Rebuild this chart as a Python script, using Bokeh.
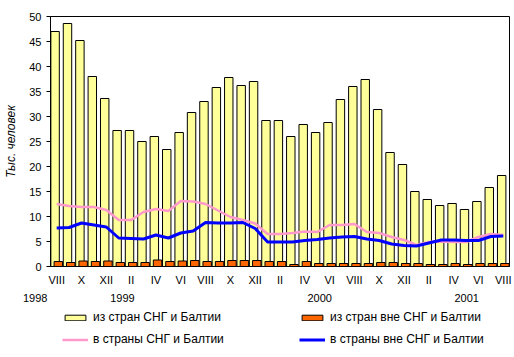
from bokeh.plotting import figure
from bokeh.models import (Range1d, FixedTicker, Legend, LegendItem,
                          ColumnDataSource, LinearAxis)
from bokeh.layouts import column
from bokeh.transform import dodge
from bokeh.embed import file_html
from bokeh.resources import INLINE

months = ["VIII", "IX", "X", "XI", "XII",
          "I", "II", "III", "IV", "V", "VI", "VII", "VIII", "IX", "X", "XI", "XII",
          "I", "II", "III", "IV", "V", "VI", "VII", "VIII", "IX", "X", "XI", "XII",
          "I", "II", "III", "IV", "V", "VI", "VII", "VIII"]

from_cis = [47.0, 48.6, 45.2, 38.0, 33.6, 27.2, 27.2, 25.0, 26.0, 23.4,
            26.8, 30.8, 33.0, 35.8, 37.8, 36.2, 37.0, 29.2, 29.2, 26.0,
            28.4, 26.8, 28.8, 33.4, 36.0, 37.4, 31.4, 22.8, 20.4, 15.0,
            13.4, 12.2, 12.6, 11.4, 13.0, 15.8, 18.2]

from_noncis = [1.0, 0.8, 1.1, 1.0, 1.1, 0.8, 0.8, 0.8, 1.3, 1.0,
               1.1, 1.2, 1.0, 1.0, 1.2, 1.2, 1.2, 1.0, 1.0, 0.4,
               1.0, 0.6, 0.6, 0.6, 0.6, 0.6, 0.8, 0.8, 0.6, 0.6,
               0.4, 0.4, 0.6, 0.4, 0.6, 0.6, 0.6]

to_cis = [12.5, 12.1, 11.9, 11.9, 11.3, 9.3, 9.3, 10.9, 11.5, 11.1,
          13.1, 13.0, 12.5, 11.2, 9.9, 9.3, 8.6, 6.5, 6.5, 6.7,
          7.0, 6.9, 8.3, 8.3, 8.5, 6.9, 6.7, 5.9, 5.3, 4.3,
          4.9, 5.0, 4.9, 4.9, 5.9, 6.5, 6.3]

to_noncis = [7.7, 7.8, 8.7, 8.3, 7.9, 5.7, 5.6, 5.5, 6.3, 5.7,
             6.7, 7.1, 8.8, 8.7, 8.7, 8.8, 7.6, 4.9, 4.9, 4.9,
             5.2, 5.4, 5.7, 5.9, 6.0, 5.5, 5.2, 4.5, 4.2, 4.1,
             4.7, 5.3, 5.3, 5.2, 5.2, 6.0, 6.1]

years = ["1998", "1999", "2000", "2001"]
year_pos = [-0.5, 5.3, 21.2, 33.05]

labels = ["из стран СНГ и Балтии", "из стран вне СНГ и Балтии",
          "в страны СНГ и Балтии", "в страны вне СНГ и Балтии"]

FONT = "Liberation Sans"
NBSP = "\u00a0"
YELLOW, ORANGE, PINK, BLUE = "#FFFF99", "#FF6600", "#FF99CC", "#0000FF"

idx = list(range(len(months)))
src = ColumnDataSource(dict(x=idx, a=from_cis, b=from_noncis,
                            c=to_cis, d=to_noncis))

p = figure(width=514, height=310, output_backend="svg", toolbar_location=None,
           x_range=Range1d(-0.5, len(months) - 0.5), y_range=Range1d(0, 50),
           min_border_left=50, min_border_right=5, min_border_top=16,
           min_border_bottom=44)
p.xgrid.visible = False
p.ygrid.visible = False
p.outline_line_color = "black"
p.outline_line_alpha = 1.0
p.outline_line_width = 1
p.background_fill_color = "white"
p.border_fill_color = "white"

p.vbar(x=dodge("x", -0.13, range=p.x_range), top="a", width=0.68,
       fill_color=YELLOW, line_color="black", line_width=1, source=src)
p.vbar(x=dodge("x", 0.13, range=p.x_range), top="b", width=0.68,
       fill_color=ORANGE, line_color="black", line_width=1, source=src)
p.line("x", "c", line_color=PINK, line_width=2.5, source=src)
p.line("x", "d", line_color=BLUE, line_width=3, source=src)

# month axis
xa = p.xaxis[0]
xa.ticker = FixedTicker(ticks=idx[::2])
xa.major_label_overrides = {i: months[i] for i in idx[::2]}
xa.major_tick_out = 0
xa.major_tick_in = 0
xa.minor_tick_out = 0
xa.minor_tick_in = 0
xa.major_label_standoff = 7
xa.major_label_text_font = FONT
xa.major_label_text_font_size = "11px"
xa.major_label_text_color = "black"
xa.axis_line_color = "black"

# year axis (second level of category labels)
year_labels = {}
for yr, pos in zip(years, year_pos):
    year_labels[pos] = yr + NBSP * 10 if pos < 0 else yr
ya2 = LinearAxis(ticker=FixedTicker(ticks=year_pos),
                 major_label_overrides=year_labels,
                 axis_line_color=None, major_tick_line_color=None,
                 minor_tick_line_color=None, major_tick_out=0, major_tick_in=0,
                 minor_tick_out=0, minor_tick_in=0, major_label_standoff=3,
                 major_label_text_font=FONT, major_label_text_font_size="11px",
                 major_label_text_color="black")
p.add_layout(ya2, "below")

# y axis
ya = p.yaxis[0]
ya.ticker = FixedTicker(ticks=list(range(0, 51, 5)))
ya.major_tick_out = 4
ya.major_tick_in = 0
ya.minor_tick_out = 0
ya.minor_tick_in = 0
ya.major_label_standoff = 5
ya.major_label_text_font = FONT
ya.major_label_text_font_size = "11px"
ya.major_label_text_color = "black"
ya.axis_line_color = "black"
ya.major_tick_line_color = "black"
ya.axis_label = "Тыс. человек"
ya.axis_label_text_font = FONT
ya.axis_label_text_font_size = "12px"
ya.axis_label_text_font_style = "italic"
ya.axis_label_text_color = "black"
ya.axis_label_standoff = 8

# legend strip: a separate figure below the chart. Its renderers share the
# data source but its ranges keep them out of view, so only the legend shows.
lf = figure(width=514, height=47, output_backend="svg", toolbar_location=None,
            x_axis_location=None, y_axis_location=None, min_border=0,
            min_border_left=0, min_border_right=0, min_border_top=0,
            min_border_bottom=0,
            x_range=Range1d(1000, 1001), y_range=Range1d(1000, 1001))
lf.xgrid.visible = False
lf.ygrid.visible = False
lf.outline_line_color = None
lf.background_fill_color = "white"
lf.border_fill_color = "white"
g1 = lf.vbar(x="x", top="a", width=0.68, fill_color=YELLOW, line_color="black",
             line_width=1, source=src)
g2 = lf.vbar(x="x", top="b", width=0.68, fill_color=ORANGE, line_color="black",
             line_width=1, source=src)
g3 = lf.line("x", "c", line_color=PINK, line_width=2.5, source=src)
g4 = lf.line("x", "d", line_color=BLUE, line_width=3, source=src)

legend = Legend(items=[LegendItem(label=labels[0], renderers=[g1]),
                       LegendItem(label=labels[1], renderers=[g2]),
                       LegendItem(label=labels[2], renderers=[g3]),
                       LegendItem(label=labels[3], renderers=[g4])],
                orientation="horizontal", ncols=2, location=(12, 11),
                padding=0, margin=0, spacing=8, label_standoff=5,
                glyph_width=26, glyph_height=7, label_height=14,
                label_width=198, border_line_color=None,
                background_fill_alpha=0, label_text_font=FONT,
                label_text_font_size="12px", label_text_color="black")
lf.add_layout(legend, "center")

layout = column(p, lf, spacing=0)
open("out.html", "w").write(file_html(layout, INLINE))
